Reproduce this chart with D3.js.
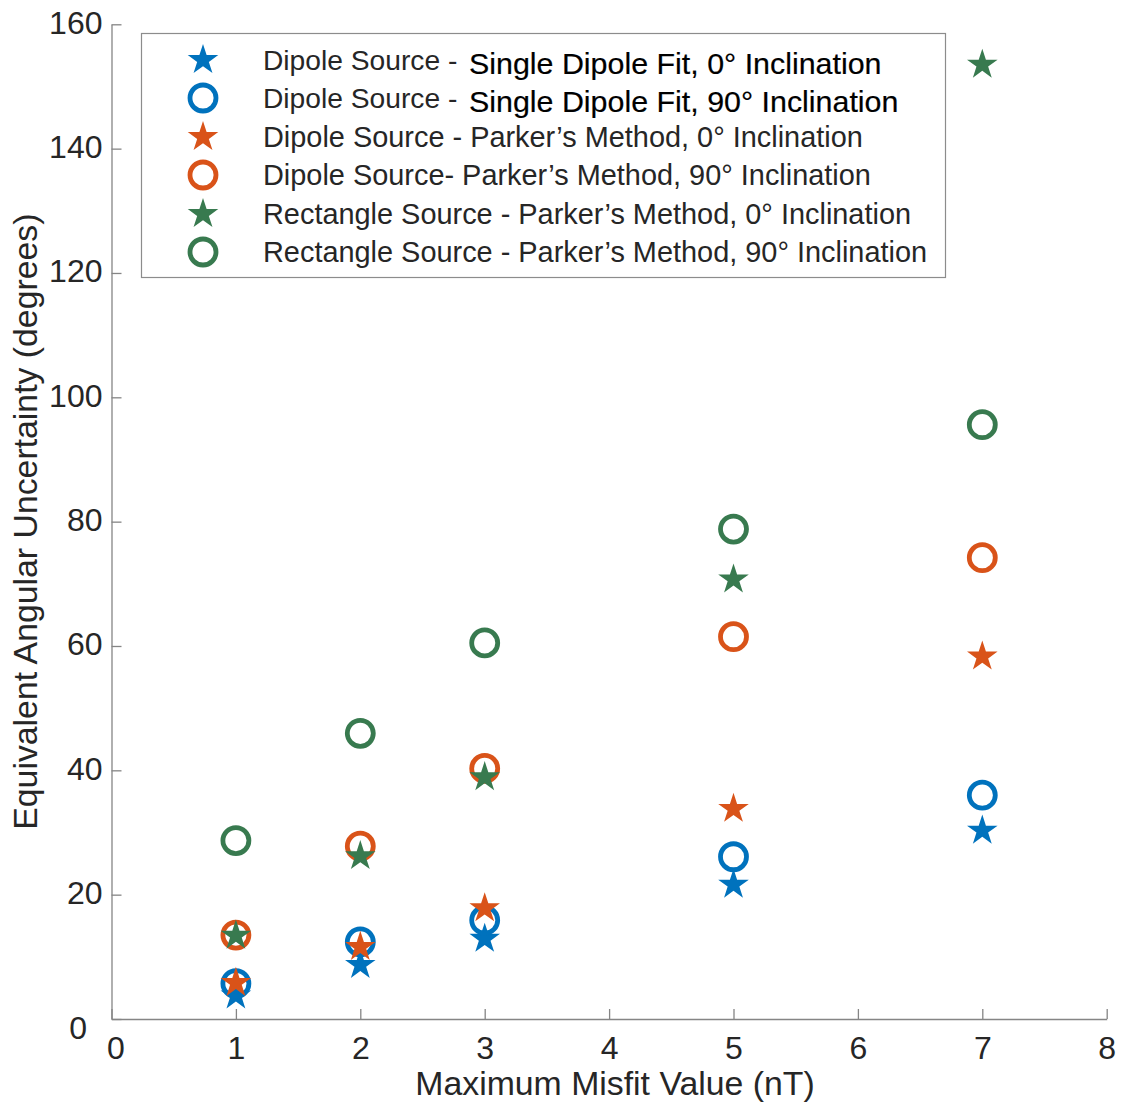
<!DOCTYPE html>
<html>
<head>
<meta charset="utf-8">
<script src="https://cdn.jsdelivr.net/npm/d3@7"></script>
<style>
  html, body { margin: 0; padding: 0; background: #fff; }
  text { font-family: "Liberation Sans", Arial, Helvetica, sans-serif; }
</style>
</head>
<body>
<svg id="chart" width="1129" height="1103"></svg>
<script>
// ---- Data ----
const xValues = [1, 2, 3, 5, 7];
const singleDipole0 = [3.8, 8.7, 12.9, 21.6, 30.3];
const singleDipole90 = [5.7, 12.4, 15.9, 26.1, 36.0];
const parkerDipole0 = [5.8, 11.6, 17.8, 33.8, 58.3];
const parkerDipole90 = [13.5, 27.8, 40.3, 61.5, 74.2];
const parkerRect0 = [13.4, 26.2, 38.9, 70.7, 153.5];
const parkerRect90 = [28.7, 45.95, 60.5, 78.8, 95.6];
const xTicks = [0, 1, 2, 3, 4, 5, 6, 7, 8];
const yTicks = [0, 20, 40, 60, 80, 100, 120, 140, 160];

const series = [
  { values: singleDipole0, marker: "star", color: "#0072BD",
    prefix: "Dipole Source - ", label: "Single Dipole Fit, 0° Inclination", special: true },
  { values: singleDipole90, marker: "circle", color: "#0072BD",
    prefix: "Dipole Source - ", label: "Single Dipole Fit, 90° Inclination", special: true },
  { values: parkerDipole0, marker: "star", color: "#D95319",
    prefix: "", label: "Dipole Source - Parker’s Method, 0° Inclination", special: false },
  { values: parkerDipole90, marker: "circle", color: "#D95319",
    prefix: "", label: "Dipole Source- Parker’s Method, 90° Inclination", special: false },
  { values: parkerRect0, marker: "star", color: "#387A4F",
    prefix: "", label: "Rectangle Source - Parker’s Method, 0° Inclination", special: false },
  { values: parkerRect90, marker: "circle", color: "#387A4F",
    prefix: "", label: "Rectangle Source - Parker’s Method, 90° Inclination", special: false }
];

// ---- Layout ----
const svg = d3.select("#chart");
const plotLeft = 111.5, plotRight = 1106.7, plotTop = 24.3, plotBottom = 1019;
const x = d3.scaleLinear().domain([0, 8]).range([plotLeft, plotRight]);
const y = d3.scaleLinear().domain([0, 160]).range([plotBottom, plotTop]);

const axisColor = "#858585";
const textColor = "#262626";

// X axis
const gx = svg.append("g").attr("transform", `translate(0,${plotBottom})`)
  .call(d3.axisBottom(x).tickValues(xTicks).tickSizeInner(-10).tickSizeOuter(0).tickPadding(17));
gx.select(".domain").attr("stroke", axisColor).attr("stroke-width", 1.3);
gx.selectAll(".tick line").attr("stroke", axisColor).attr("stroke-width", 1.3);
gx.selectAll(".tick text").attr("fill", textColor).attr("font-size", 32)
  .attr("font-family", "Liberation Sans, Arial, sans-serif")
  .attr("dx", d => d === 0 ? 4 : 0);

// Y axis
const gy = svg.append("g").attr("transform", `translate(${plotLeft},0)`)
  .call(d3.axisLeft(y).tickValues(yTicks).tickSizeInner(-10).tickSizeOuter(0).tickPadding(9));
gy.select(".domain").attr("stroke", axisColor).attr("stroke-width", 1.3);
gy.selectAll(".tick line").attr("stroke", axisColor).attr("stroke-width", 1.3);
gy.selectAll(".tick text").attr("fill", textColor).attr("font-size", 32)
  .attr("font-family", "Liberation Sans, Arial, sans-serif")
  .attr("dy", d => d === 0 ? "0.61em" : "0.28em")
  .attr("dx", d => d === 0 ? -15.5 : 0);

// Axis labels
svg.append("text")
  .attr("x", 615).attr("y", 1095)
  .attr("text-anchor", "middle").attr("fill", textColor).attr("font-size", 33.8)
  .text("Maximum Misfit Value (nT)");
svg.append("text")
  .attr("transform", `translate(37,${(plotTop + plotBottom) / 2}) rotate(-90)`)
  .attr("text-anchor", "middle").attr("fill", textColor).attr("font-size", 33.8)
  .text("Equivalent Angular Uncertainty (degrees)");

// Markers
const starSym = d3.symbol().type(d3.symbolStar).size(290);
function drawMarker(g, type, color) {
  if (type === "star") {
    g.append("path").attr("d", starSym()).attr("fill", color);
  } else {
    g.append("circle").attr("r", 13).attr("fill", "none")
      .attr("stroke", color).attr("stroke-width", 4.8);
  }
}

const plot = svg.append("g");
series.forEach(s => {
  plot.selectAll(null).data(xValues.map((xv, i) => [xv, s.values[i]]))
    .enter().append("g")
    .attr("transform", d => `translate(${x(d[0])},${y(d[1])})`)
    .each(function () { drawMarker(d3.select(this), s.marker, s.color); });
});

// Legend
const legend = svg.append("g");
legend.append("rect").attr("x", 141.5).attr("y", 33.5).attr("width", 804).attr("height", 244)
  .attr("fill", "#fff").attr("stroke", "#8c8c8c").attr("stroke-width", 1.2);
const rowY = [60, 98, 137, 175, 214, 252];
series.forEach((s, i) => {
  const row = legend.append("g").attr("transform", `translate(0,${rowY[i]})`);
  const m = row.append("g").attr("transform", "translate(203,0)");
  drawMarker(m, s.marker, s.color);
  const t = row.append("text").attr("x", 263).attr("y", 0).attr("dy", "0.35em")
    .attr("font-size", 28.9).attr("fill", textColor);
  if (s.special) {
    t.append("tspan").attr("font-size", 28.2).text(s.prefix);
    t.append("tspan").attr("x", 469).attr("dy", 4).attr("font-size", 30.4)
      .attr("fill", "#000").attr("stroke", "#000").attr("stroke-width", 0.2)
      .text(s.label);
  } else {
    t.text(s.label);
  }
});
</script>
</body>
</html>
